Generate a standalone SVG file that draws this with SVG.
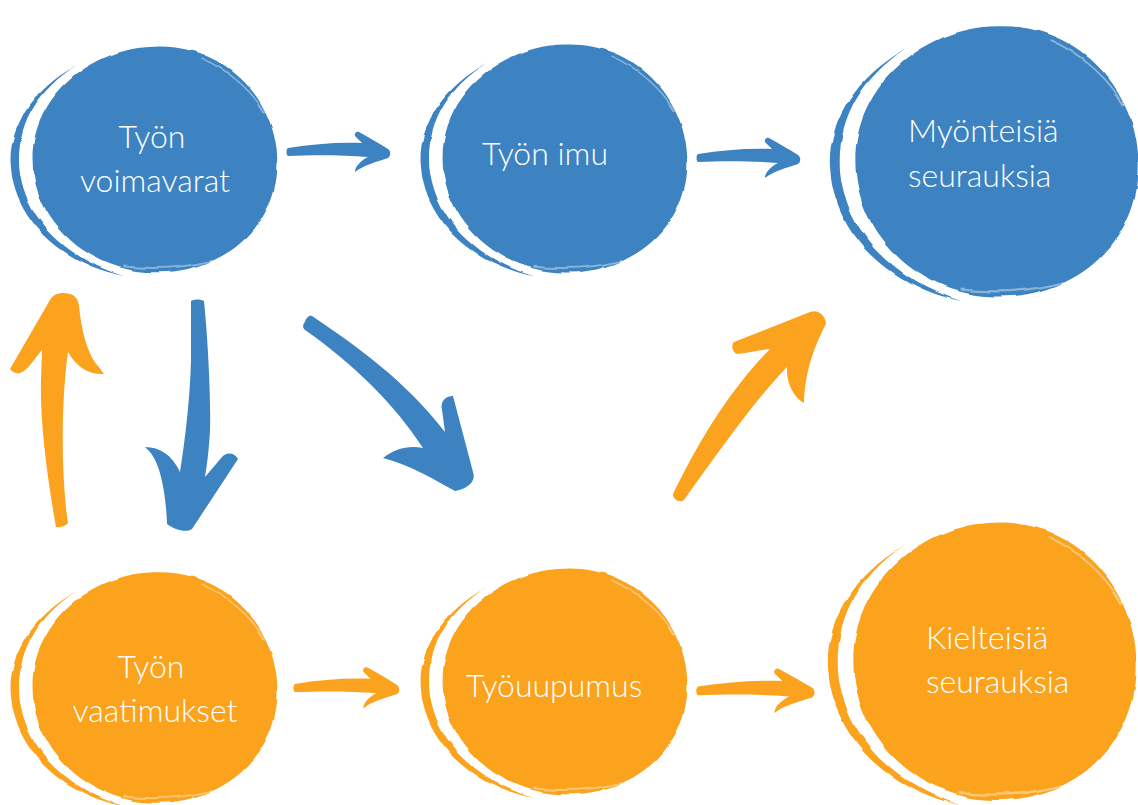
<svg xmlns="http://www.w3.org/2000/svg" xmlns:xlink="http://www.w3.org/1999/xlink" width="1138" height="805" viewBox="0 0 1138 805">
  <style>
    .blue { fill: #3d83c1; }
    .orange { fill: #fba31e; }
    .lbl { font-family: Lato, "Open Sans", "Liberation Sans", sans-serif; font-size: 32px; fill: #ffffff; font-weight: 300; }
    .mid { text-anchor: middle; }
    .streak { fill: none; stroke: #ffffff; stroke-opacity: 0.4; stroke-linecap: round; }
  </style>
  <defs>
    <filter id="rough" x="-10%" y="-10%" width="120%" height="120%">
      <feTurbulence type="fractalNoise" baseFrequency="0.035" numOctaves="2" seed="3" result="n"/>
      <feDisplacementMap in="SourceGraphic" in2="n" scale="4" xChannelSelector="R" yChannelSelector="G"/>
    </filter>
    <g id="blob">
      <path d="M 0,-118 C 62,-121 118,-70 120,0 C 122,66 70,118 0,117 C -66,117 -120,62 -120,0 C -121,-66 -62,-117 0,-118 Z"/>
      <path d="M -78,-98 C -122,-72 -146,-30 -141,10 C -136,62 -92,108 -30,121 C -85,104 -128,62 -133,8 C -136,-35 -116,-72 -78,-98 Z"/>
      <path class="streak" stroke-width="1.5" d="M 45,-106 C 72,-94 95,-72 107,-50"/>
      <path class="streak" stroke-width="2" d="M -30,111 C 0,114 30,112 55,105"/>
    </g>
    <path id="harrow" d="M -100,-5 C -75,-9 -50,-11 -26,-10 L -33,-17 C -34,-20 -31,-22 -29,-21 C -18,-15 -8,-9 0,-4 C 3,-2 3,3 0,5 C -12,9 -24,12 -33,19 C -33,14 -28,8 -20,4 C -45,2 -75,2 -100,3 C -102,2 -102,-4 -100,-5 Z"/>
  </defs>

  <rect x="0" y="0" width="1138" height="805" fill="#ffffff"/>

  <g id="node-tyon-voimavarat">
    <use xlink:href="#blob" class="blue" filter="url(#rough)" transform="translate(155,160) scale(1.02,0.96)"/>
    <text class="lbl mid" x="152" y="148">Työn</text>
    <text class="lbl mid" x="155" y="192">voimavarat</text>
  </g>

  <g id="node-tyon-imu">
    <use xlink:href="#blob" class="blue" filter="url(#rough)" transform="translate(565,159) scale(1.02,0.97)"/>
    <text class="lbl mid" x="545" y="165">Työn imu</text>
  </g>

  <g id="node-myonteisia">
    <use xlink:href="#blob" class="blue" filter="url(#rough)" transform="translate(997,162) scale(1.18,1.15)"/>
    <text class="lbl" x="908" y="142">Myönteisiä</text>
    <text class="lbl" x="908" y="187">seurauksia</text>
  </g>

  <g id="node-tyon-vaatimukset">
    <use xlink:href="#blob" class="orange" filter="url(#rough)" transform="translate(155,688) scale(1.02,0.98)"/>
    <text class="lbl mid" x="151" y="678">Työn</text>
    <text class="lbl mid" x="155" y="722">vaatimukset</text>
  </g>

  <g id="node-tyouupumus">
    <use xlink:href="#blob" class="orange" filter="url(#rough)" transform="translate(565,682) scale(1.02,0.96)"/>
    <text class="lbl mid" x="554" y="697">Työuupumus</text>
  </g>

  <g id="node-kielteisia">
    <use xlink:href="#blob" class="orange" filter="url(#rough)" transform="translate(995,662) scale(1.18,1.18)"/>
    <text class="lbl" x="926" y="649">Kielteisiä</text>
    <text class="lbl" x="926" y="693">seurauksia</text>
  </g>

  <g id="connectors">
    <use xlink:href="#harrow" class="blue" transform="translate(388,153)"/>
    <use xlink:href="#harrow" class="blue" transform="translate(798,159)"/>
    <use xlink:href="#harrow" class="orange" transform="translate(397,689) scale(1.02,1.02)"/>
    <use xlink:href="#harrow" class="orange" transform="translate(812,692) scale(1.14,1.1)"/>
    <path class="orange" d="M 56,527 C 46,470 40,420 41,380 L 42,350 C 36,356 30,368 22,372 C 18,375 12,372 10,369 L 50,300 C 54,293 62,292 70,294 C 76,296 78,300 79,305 C 81,330 88,355 98,366 L 104,374 C 90,375 77,368 68,352 C 64,380 62,420 63,460 C 64,490 66,510 68,523 C 65,527 58,528 56,527 Z"/>
    <path class="blue" d="M 191,301 C 195,299 200,299 204,301 C 208,340 211,400 210,430 C 209,450 207,465 205,477 L 222,457 C 226,452 234,452 238,459 L 192,529 C 186,533 175,530 167,524 C 166,495 161,465 150,452 L 145,447 C 160,447 172,455 180,472 C 185,440 190,400 191,360 Z"/>
    <path class="blue" d="M 305,322 C 306,318 309,315 312,316 C 355,345 405,380 445,432 L 442,410 C 440,402 445,396 453,396 L 473,472 C 476,480 470,488 455,491 C 435,480 410,465 383,458 C 395,448 410,445 423,448 C 395,405 355,365 305,330 C 302,327 303,324 305,322 Z"/>
    <path class="orange" d="M 673,494 C 690,460 720,400 770,349 C 760,350 748,353 737,354 C 732,352 731,345 734,342 L 810,312 C 818,309 826,316 826,324 C 815,345 805,370 804,403 C 795,398 786,385 787,367 C 755,400 720,450 684,500 C 680,503 673,500 673,494 Z"/>
  </g>
</svg>
